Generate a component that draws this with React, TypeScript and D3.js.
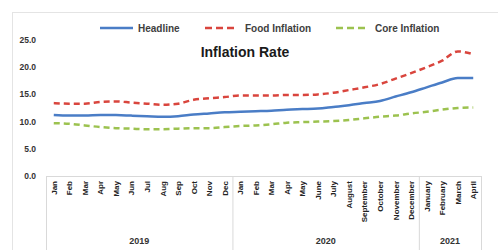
import React from "react";
import * as d3 from "d3";

const months = [
  "Jan","Feb","Mar","Apr","May","Jun","Jul","Aug","Sep","Oct","Nov","Dec",
  "Jan","Feb","Mar","Apr","May","June","July","August","September","October","November","December",
  "January","February","March","April",
];
const years = [
  { label: "2019", count: 12 },
  { label: "2020", count: 12 },
  { label: "2021", count: 4 },
];
const headline = [11.2,11.1,11.1,11.2,11.2,11.1,11.0,10.9,11.0,11.3,11.5,11.7,11.8,11.9,12.0,12.2,12.3,12.4,12.7,13.0,13.4,13.8,14.6,15.4,16.3,17.2,18.0,18.0];
const food = [13.4,13.3,13.3,13.6,13.7,13.5,13.3,13.1,13.3,14.0,14.3,14.5,14.8,14.8,14.8,14.9,14.9,15.0,15.3,15.8,16.3,16.9,17.9,18.9,20.0,21.2,22.9,22.4];
const core = [9.7,9.6,9.3,9.0,8.8,8.7,8.6,8.6,8.7,8.8,8.8,9.0,9.2,9.3,9.5,9.8,9.9,10.0,10.1,10.3,10.6,10.9,11.1,11.5,11.8,12.2,12.5,12.6];
const yTicks = [0, 5, 10, 15, 20, 25];

const series = [
  { name: "Headline", values: headline, color: "#4A7DC6", dash: "none" },
  { name: "Food Inflation", values: food, color: "#D9453D", dash: "6,4" },
  { name: "Core Inflation", values: core, color: "#9CC24F", dash: "6,4" },
];

export default function App() {
  const W = 498, H = 250;
  const x0 = 46, x1 = 481, yBase = 176;
  const band = d3.scaleBand<number>().domain(months.map((_, i) => i)).range([x0, x1]).padding(0);
  const cx = (i: number) => (band(i) as number) + band.bandwidth() / 2;
  const y = d3.scaleLinear().domain([0, 25]).range([yBase, 40]);
  const line = (vals: number[]) =>
    d3.line<number>().x((_, i) => cx(i)).y((v) => y(v)).curve(d3.curveMonotoneX)(vals) || "";

  let acc = 0;
  const yearBounds = years.map((yr) => {
    const start = acc;
    acc += yr.count;
    return { ...yr, start, end: acc };
  });

  const legend = [
    { s: series[0], lx: 100, lw: 33, tx: 138 },
    { s: series[1], lx: 205, lw: 33, tx: 245 },
    { s: series[2], lx: 336, lw: 32, tx: 375 },
  ];

  return (
    <svg width={W} height={H} style={{ position: "fixed", left: 0, top: 0, background: "#fff" }}
      fontFamily="Liberation Sans, Arial, sans-serif">
      <rect x={12.5} y={12.5} width={W} height={H} fill="none" stroke="#e4e4e4" strokeWidth={1} />
      {legend.map((l) => (
        <g key={l.s.name}>
          <line x1={l.lx} x2={l.lx + l.lw} y1={28} y2={28} stroke={l.s.color} strokeWidth={2.5}
            strokeDasharray={l.s.dash === "none" ? undefined : "7,4"} />
          <text x={l.tx} y={31.5} fontSize={10} fontWeight="bold" fill="#404040">{l.s.name}</text>
        </g>
      ))}
      <text x={245} y={57} fontSize={14} fontWeight="bold" textAnchor="middle" fill="#1a1a1a">Inflation Rate</text>
      {yTicks.map((t) => (
        <text key={t} x={36} y={y(t) + 3} fontSize={8.5} fontWeight="bold" textAnchor="end" fill="#333">
          {t.toFixed(1)}
        </text>
      ))}
      <line x1={x0} x2={x1} y1={yBase + 0.5} y2={yBase + 0.5} stroke="#d9d9d9" />
      {[0, ...yearBounds.map((b) => b.end)].map((k) => {
        const xx = k === 0 ? x0 : (band(k - 1) as number) + band.bandwidth();
        return <line key={k} x1={xx + 0.5} x2={xx + 0.5} y1={yBase} y2={H} stroke="#d9d9d9" />;
      })}
      {months.map((m, i) => (
        <text key={i} transform={`translate(${cx(i) + 3},${181}) rotate(-90)`} fontSize={8}
          fontWeight="bold" textAnchor="end" fill="#222">{m}</text>
      ))}
      {yearBounds.map((b) => {
        const xs = band(b.start) as number;
        const xe = (band(b.end - 1) as number) + band.bandwidth();
        return (
          <text key={b.label} x={(xs + xe) / 2} y={244} fontSize={9} fontWeight="bold" textAnchor="middle" fill="#333">
            {b.label}
          </text>
        );
      })}
      {series.map((s) => (
        <path key={s.name} d={line(s.values)} fill="none" stroke={s.color} strokeWidth={2.5}
          strokeDasharray={s.dash === "none" ? undefined : s.dash} />
      ))}
    </svg>
  );
}
